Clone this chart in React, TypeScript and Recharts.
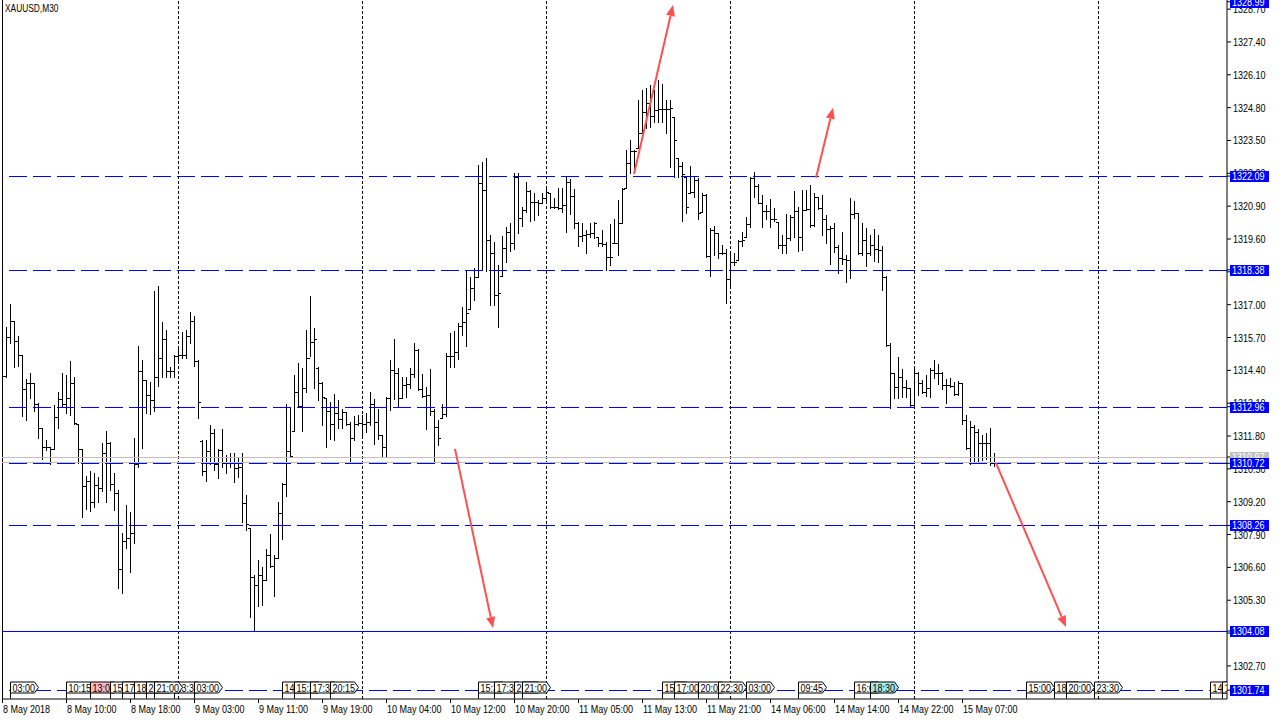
import React from "react";
import { ComposedChart, Bar, XAxis, YAxis, ReferenceLine, ReferenceDot } from "recharts";

const FONT = "'Liberation Sans', Arial, sans-serif";
const BLUE = "#0000ff";
const RED = "#ff5050";
const GREY = "#c0c0c0";
const SQUEEZE = "scale(0.82,1)";

// XAUUSD M30, one entry per bar (bar 0 = 8 May 2018 02:00)
const opens = [
  1314.30, 1314.17, 1315.71, 1316.35, 1315.56, 1315.00, 1313.65, 1313.90, 1313.89, 1313.06,
  1312.11, 1311.36, 1311.36, 1311.28, 1312.54, 1313.26, 1313.06, 1313.30, 1313.89, 1312.27,
  1311.28, 1309.81, 1310.01, 1309.19, 1309.85, 1309.73, 1311.12, 1311.52, 1309.89, 1309.54,
  1306.53, 1307.64, 1307.76, 1307.96, 1310.68, 1314.37, 1314.01, 1313.42, 1313.22, 1314.13,
  1314.88, 1315.63, 1314.37, 1314.37, 1314.96, 1315.00, 1315.00, 1315.75, 1316.35, 1314.76,
  1311.60, 1310.41, 1311.20, 1311.91, 1310.68, 1311.24, 1310.72, 1310.76, 1310.96, 1310.53,
  1310.56, 1309.15, 1308.16, 1306.22, 1305.90, 1306.30, 1306.10, 1307.09, 1306.65, 1306.97,
  1308.75, 1309.89, 1311.20, 1312.00, 1313.54, 1312.98, 1313.70, 1314.88, 1315.52, 1314.50,
  1313.89, 1313.30, 1312.78, 1312.27, 1312.70, 1312.47, 1312.74, 1312.27, 1311.71, 1312.27,
  1312.31, 1312.27, 1312.35, 1313.06, 1312.35, 1311.83, 1311.36, 1313.30, 1314.41, 1314.29,
  1313.30, 1313.81, 1313.85, 1314.25, 1315.20, 1313.66, 1313.38, 1313.42, 1312.78, 1312.15,
  1312.51, 1312.66, 1314.96, 1314.96, 1315.12, 1316.15, 1316.31, 1316.83, 1317.66, 1318.09,
  1321.81, 1321.54, 1319.56, 1319.04, 1317.38, 1318.13, 1319.24, 1319.88, 1319.44, 1322.05,
  1320.43, 1320.75, 1321.50, 1321.06, 1321.06, 1321.02, 1321.22, 1321.42, 1320.86, 1320.86,
  1320.83, 1320.94, 1321.85, 1321.30, 1320.23, 1319.72, 1319.76, 1319.80, 1319.84, 1319.68,
  1319.44, 1319.40, 1318.89, 1319.44, 1319.46, 1320.23, 1321.62, 1322.61, 1323.08, 1323.20,
  1323.79, 1324.63, 1324.98, 1324.47, 1324.71, 1324.74, 1324.74, 1324.74, 1324.43, 1322.81,
  1322.49, 1322.05, 1321.42, 1321.46, 1321.93, 1320.67, 1321.34, 1318.92, 1319.95, 1319.84,
  1319.04, 1319.04, 1318.01, 1318.69, 1318.77, 1319.52, 1319.68, 1320.19, 1322.01, 1321.70,
  1321.04, 1320.71, 1320.71, 1320.39, 1320.27, 1319.36, 1319.36, 1319.64, 1320.47, 1320.71,
  1319.68, 1320.75, 1320.77, 1320.15, 1321.26, 1320.83, 1320.39, 1319.99, 1320.03, 1319.28,
  1318.84, 1318.80, 1318.77, 1320.59, 1320.63, 1319.04, 1319.56, 1319.04, 1319.36, 1319.20,
  1319.16, 1318.09, 1315.40, 1314.29, 1313.74, 1314.13, 1313.74, 1313.70, 1313.02, 1314.29,
  1313.89, 1313.54, 1313.70, 1314.41, 1314.29, 1314.29, 1313.81, 1313.81, 1313.77, 1313.46,
  1313.89, 1312.43, 1311.32, 1312.15, 1311.95, 1311.52, 1311.52, 1311.52, 1310.72,
];

const highs = [
  1314.41, 1316.11, 1317.02, 1316.35, 1315.75, 1315.00, 1314.05, 1314.29, 1313.89, 1313.10,
  1312.11, 1311.64, 1311.36, 1313.02, 1313.54, 1314.29, 1314.21, 1314.76, 1314.13, 1312.27,
  1311.28, 1310.21, 1310.41, 1310.33, 1310.17, 1311.52, 1311.99, 1311.56, 1310.33, 1309.66,
  1307.96, 1309.07, 1308.79, 1311.71, 1315.36, 1314.80, 1314.01, 1313.93, 1317.54, 1317.73,
  1316.31, 1315.99, 1314.52, 1315.00, 1315.28, 1315.91, 1315.99, 1316.71, 1316.55, 1314.80,
  1311.64, 1311.64, 1312.23, 1312.07, 1311.28, 1312.07, 1311.05, 1311.12, 1311.12, 1310.96,
  1311.12, 1309.46, 1308.16, 1306.30, 1306.89, 1306.61, 1307.33, 1307.92, 1307.09, 1309.19,
  1309.94, 1313.06, 1312.94, 1314.21, 1314.68, 1314.48, 1315.99, 1317.34, 1316.07, 1314.52,
  1313.93, 1313.30, 1313.14, 1313.46, 1313.22, 1312.87, 1312.74, 1312.35, 1312.59, 1312.63,
  1312.63, 1312.70, 1313.54, 1313.26, 1312.87, 1311.83, 1313.34, 1314.80, 1315.64, 1314.48,
  1314.13, 1314.13, 1314.48, 1315.48, 1315.24, 1314.25, 1313.74, 1314.45, 1312.87, 1312.43,
  1313.06, 1315.08, 1315.87, 1315.95, 1316.27, 1316.91, 1318.37, 1318.09, 1318.45, 1322.53,
  1322.65, 1322.81, 1319.76, 1319.48, 1318.57, 1319.72, 1320.07, 1320.23, 1322.21, 1322.21,
  1320.86, 1321.85, 1321.54, 1321.42, 1321.14, 1321.42, 1321.62, 1321.42, 1321.22, 1321.62,
  1321.62, 1322.05, 1321.97, 1321.58, 1320.27, 1320.23, 1319.95, 1320.23, 1320.27, 1319.68,
  1319.95, 1319.48, 1320.19, 1320.39, 1321.14, 1321.62, 1323.12, 1323.52, 1323.12, 1325.10,
  1325.50, 1325.58, 1325.69, 1325.50, 1325.89, 1325.73, 1325.10, 1325.10, 1324.43, 1322.81,
  1322.65, 1322.05, 1322.49, 1322.05, 1322.01, 1321.42, 1321.38, 1320.03, 1320.11, 1319.84,
  1319.36, 1319.20, 1319.08, 1319.04, 1319.56, 1319.88, 1320.47, 1322.05, 1322.25, 1321.77,
  1321.34, 1320.94, 1321.18, 1320.83, 1320.27, 1319.76, 1320.59, 1320.55, 1321.50, 1320.86,
  1321.54, 1321.54, 1321.73, 1321.42, 1321.26, 1321.34, 1320.55, 1320.11, 1320.23, 1319.36,
  1319.88, 1318.96, 1321.22, 1321.10, 1320.63, 1320.23, 1320.03, 1319.76, 1319.99, 1319.76,
  1319.32, 1318.13, 1315.48, 1314.29, 1314.92, 1314.45, 1314.01, 1313.70, 1314.48, 1314.33,
  1314.01, 1314.21, 1314.48, 1314.80, 1314.64, 1314.33, 1314.05, 1314.09, 1313.93, 1313.97,
  1313.89, 1312.63, 1312.39, 1312.23, 1312.07, 1311.83, 1311.91, 1312.11, 1311.12,
];

const lows = [
  1313.81, 1314.13, 1315.48, 1314.52, 1314.56, 1312.58, 1312.43, 1313.30, 1312.78, 1311.71,
  1310.88, 1311.24, 1310.68, 1311.28, 1312.11, 1312.94, 1312.70, 1312.62, 1312.27, 1310.72,
  1308.59, 1308.91, 1308.83, 1308.99, 1309.19, 1309.62, 1309.19, 1309.66, 1308.87, 1305.78,
  1305.58, 1307.37, 1306.42, 1307.56, 1310.56, 1311.32, 1312.70, 1312.66, 1312.78, 1313.77,
  1314.13, 1314.13, 1314.13, 1314.13, 1314.80, 1314.88, 1314.88, 1315.48, 1314.56, 1312.50,
  1310.25, 1310.01, 1310.68, 1310.45, 1310.13, 1310.56, 1310.33, 1310.56, 1309.98, 1310.17,
  1308.40, 1308.08, 1304.64, 1304.08, 1305.07, 1305.11, 1306.10, 1306.61, 1305.47, 1306.97,
  1307.72, 1309.42, 1310.96, 1311.99, 1312.94, 1311.99, 1313.54, 1314.96, 1313.70, 1313.22,
  1312.23, 1311.36, 1311.68, 1311.64, 1312.11, 1312.11, 1312.23, 1310.76, 1311.64, 1312.23,
  1311.76, 1311.95, 1312.23, 1311.48, 1311.68, 1310.96, 1310.96, 1312.82, 1313.26, 1312.98,
  1313.30, 1313.34, 1313.70, 1314.13, 1313.62, 1313.34, 1312.07, 1312.63, 1310.72, 1311.44,
  1312.51, 1312.59, 1314.53, 1314.53, 1314.84, 1315.80, 1315.36, 1316.83, 1317.18, 1318.09,
  1318.37, 1318.33, 1316.99, 1316.99, 1316.11, 1318.13, 1318.69, 1319.12, 1319.20, 1319.84,
  1320.11, 1320.67, 1320.31, 1320.35, 1320.55, 1321.02, 1321.06, 1320.83, 1320.83, 1320.79,
  1320.67, 1319.88, 1320.59, 1320.03, 1319.32, 1319.52, 1319.04, 1319.68, 1319.64, 1319.32,
  1319.32, 1318.37, 1318.57, 1319.44, 1318.96, 1320.23, 1321.62, 1322.21, 1322.21, 1323.20,
  1323.79, 1323.99, 1324.03, 1324.23, 1324.23, 1324.23, 1323.79, 1322.45, 1322.05, 1322.05,
  1320.31, 1320.63, 1321.42, 1321.26, 1320.39, 1320.67, 1318.88, 1318.13, 1318.96, 1318.84,
  1319.00, 1317.06, 1317.73, 1318.57, 1318.77, 1319.32, 1319.68, 1320.07, 1321.26, 1321.02,
  1320.07, 1320.39, 1320.07, 1320.31, 1319.24, 1319.04, 1319.04, 1319.56, 1319.68, 1319.12,
  1319.16, 1320.75, 1320.07, 1320.11, 1320.79, 1319.76, 1319.44, 1318.61, 1319.08, 1318.25,
  1318.61, 1317.89, 1318.05, 1320.43, 1319.00, 1318.96, 1318.53, 1318.96, 1318.73, 1318.69,
  1317.58, 1315.36, 1312.90, 1313.30, 1313.30, 1313.34, 1313.34, 1312.94, 1312.94, 1313.42,
  1313.50, 1313.38, 1313.34, 1314.09, 1313.85, 1313.66, 1313.10, 1313.74, 1313.42, 1313.42,
  1312.27, 1311.28, 1310.68, 1310.72, 1310.72, 1310.84, 1310.88, 1310.64, 1310.60,
];

const closes = [
  1314.17, 1315.71, 1316.35, 1315.56, 1315.00, 1313.65, 1313.90, 1313.89, 1313.06, 1312.11,
  1311.36, 1311.36, 1311.28, 1312.54, 1313.26, 1313.06, 1313.30, 1313.89, 1312.30, 1311.28,
  1309.81, 1310.01, 1309.19, 1309.85, 1309.73, 1311.12, 1311.52, 1309.89, 1309.54, 1306.53,
  1307.64, 1307.76, 1307.96, 1310.68, 1314.37, 1314.01, 1313.42, 1313.22, 1314.13, 1314.88,
  1315.63, 1314.37, 1314.37, 1314.96, 1315.00, 1315.00, 1315.75, 1316.35, 1314.76, 1313.14,
  1310.41, 1311.20, 1311.91, 1310.68, 1311.24, 1310.72, 1310.76, 1310.96, 1310.53, 1310.56,
  1309.15, 1308.30, 1306.22, 1305.90, 1306.30, 1306.10, 1307.09, 1306.65, 1306.97, 1308.75,
  1309.89, 1311.20, 1311.00, 1313.54, 1312.98, 1313.70, 1314.88, 1315.52, 1315.63, 1313.89,
  1313.34, 1312.78, 1312.27, 1312.70, 1312.47, 1312.74, 1312.27, 1311.71, 1312.27, 1312.31,
  1312.27, 1312.35, 1313.06, 1312.35, 1311.83, 1311.36, 1313.30, 1314.41, 1314.29, 1313.30,
  1313.81, 1313.85, 1314.25, 1315.20, 1313.66, 1313.38, 1313.42, 1312.78, 1312.15, 1311.71,
  1312.66, 1314.96, 1314.96, 1315.12, 1316.15, 1316.31, 1316.67, 1317.66, 1318.09, 1321.81,
  1321.54, 1319.56, 1319.04, 1317.38, 1317.46, 1319.24, 1319.88, 1319.44, 1322.05, 1320.43,
  1320.75, 1321.50, 1321.06, 1321.06, 1321.02, 1321.22, 1321.46, 1320.86, 1320.86, 1320.83,
  1320.94, 1321.85, 1321.30, 1320.23, 1319.72, 1319.76, 1319.80, 1319.84, 1320.23, 1319.44,
  1319.40, 1318.89, 1318.89, 1319.46, 1320.23, 1321.58, 1322.61, 1323.08, 1323.08, 1323.79,
  1324.63, 1324.98, 1324.47, 1324.71, 1324.74, 1324.74, 1324.74, 1324.78, 1323.52, 1322.49,
  1322.17, 1320.86, 1321.46, 1321.93, 1320.63, 1321.34, 1318.92, 1319.95, 1319.84, 1319.04,
  1319.04, 1318.01, 1318.69, 1318.69, 1319.52, 1319.56, 1320.19, 1322.01, 1321.70, 1321.04,
  1320.71, 1320.71, 1320.39, 1320.39, 1319.36, 1319.36, 1319.64, 1320.47, 1320.71, 1319.68,
  1320.75, 1320.77, 1320.15, 1321.26, 1320.83, 1320.39, 1319.99, 1320.03, 1319.28, 1318.84,
  1318.80, 1318.77, 1320.59, 1320.63, 1319.04, 1319.56, 1319.04, 1319.36, 1319.20, 1319.16,
  1318.09, 1315.40, 1314.29, 1313.74, 1314.13, 1313.74, 1313.70, 1313.02, 1314.29, 1313.89,
  1313.54, 1313.70, 1314.41, 1314.29, 1314.29, 1313.81, 1313.81, 1313.77, 1313.46, 1313.89,
  1312.43, 1311.32, 1312.15, 1311.95, 1311.52, 1311.52, 1311.52, 1310.72, 1310.72,
];

const timeTickBars = [0, 16, 32, 48, 64, 80, 96, 112, 128, 144, 160, 176, 192, 208, 224, 240];
const timeTickLabels = [
  "8 May 2018", "8 May 10:00", "8 May 18:00", "9 May 03:00", "9 May 11:00", "9 May 19:00",
  "10 May 04:00", "10 May 12:00", "10 May 20:00", "11 May 05:00", "11 May 13:00", "11 May 21:00",
  "14 May 06:00", "14 May 14:00", "14 May 22:00", "15 May 07:00",
];

const priceTicks = [
  1328.7, 1327.4, 1326.1, 1324.8, 1323.5, 1322.2, 1320.9, 1319.6, 1318.3, 1317.0, 1315.7,
  1314.4, 1313.1, 1311.8, 1310.5, 1309.2, 1307.9, 1306.6, 1305.3, 1304.0, 1302.7,
];

const gridBars = [44, 90, 136, 182, 228, 274];

const dashedLevels = [1322.09, 1318.38, 1312.96, 1310.72, 1308.26, 1301.74];
const solidLevels = [1304.08];
const topLevel = 1328.99;
const askPrice = 1310.97;
const bidPrice = 1310.78;
// price tags on the scale, drawn after the plain ticks, in this order
const tagLevels = [askPrice, topLevel, 1322.09, 1318.38, 1312.96, 1310.72, 1308.26, 1304.08, 1301.74];

// red trend arrows, [bar, price] pairs
const arrowFrom = [[113.25, 1311.29], [158, 1322.17], [203.5, 1322.02], [248.5, 1310.73]];
const arrowTo = [[122.75, 1304.2], [167.75, 1328.86], [207.75, 1324.79], [266, 1304.24]];

// calendar event markers (draw order)
const eventBars = [2, 16, 22, 27, 30, 33, 36, 43, 38, 48, 70, 73, 77, 82, 119, 123, 128, 130, 165, 168, 174, 179, 186, 199, 213, 217, 256, 263, 266, 273, 302, 305];
const eventTimes = ["03:00", "10:15", "13:00", "15:30", "17:00", "18:30", "20:00", "23:30", "21:00", "03:00", "14:00", "15:30", "17:30", "20:15", "15:30", "17:30", "20:00", "21:00", "15:30", "17:00", "20:00", "22:30", "03:00", "09:45", "16:00", "18:30", "15:00", "18:00", "20:00", "23:30", "14:00", "15:30"];
const eventFill: Record<number, string> = { 2: "#ffb6c1", 25: "#a8e8e8" };

const data = highs.map((h, i) => ({
  i,
  range: [lows[i], h],
  open: opens[i],
  high: h,
  low: lows[i],
  close: closes[i],
}));

function OhlcBar(props: any) {
  const { x, y, width, height, payload } = props;
  if (x == null || y == null) return null;
  const col = Math.round(x + width / 2);
  const top = Math.min(y, y + height);
  const bot = Math.max(y, y + height);
  const span = payload.high - payload.low;
  const toY = (v: number) => (span > 0 ? top + ((payload.high - v) / span) * (bot - top) : top);
  const yo = Math.round(toY(payload.open)) + 0.5;
  const yc = Math.round(toY(payload.close)) + 0.5;
  return (
    <g>
      <line x1={col + 0.5} x2={col + 0.5} y1={Math.round(top)} y2={Math.round(bot) + 1} stroke="#000" />
      <line x1={col - 2} x2={col} y1={yo} y2={yo} stroke="#000" />
      <line x1={col + 1} x2={col + 3} y1={yc} y2={yc} stroke="#000" />
    </g>
  );
}

const hLine = (color: string, dash?: string) => (p: any) => {
  const yy = Math.round(p.y1) + 0.5;
  return <line x1={p.x1} x2={p.x2} y1={yy} y2={yy} stroke={color} strokeDasharray={dash} />;
};

const vLine = (dash?: string) => (p: any) => {
  const xx = Math.round(p.x1) + 0.5;
  return <line x1={xx} x2={xx} y1={p.y1} y2={p.y2} stroke="#000" strokeDasharray={dash} />;
};

function ArrowShape(p: any) {
  const { x1, y1, x2, y2 } = p;
  const dx = x2 - x1;
  const dy = y2 - y1;
  const len = Math.hypot(dx, dy) || 1;
  const ux = dx / len;
  const uy = dy / len;
  const bx = x2 - ux * 11;
  const by = y2 - uy * 11;
  const px = -uy * 4.5;
  const py = ux * 4.5;
  return (
    <g>
      <line x1={x1} y1={y1} x2={bx} y2={by} stroke={RED} strokeWidth={2} />
      <polygon points={`${x2},${y2} ${bx + px},${by + py} ${bx - px},${by - py}`} fill={RED} />
    </g>
  );
}

const eventShape = (label: string, fill: string) => (p: any) => {
  const x = Math.round(p.cx) + 0.5;
  const y = Math.round(p.cy) - 2.5;
  return (
    <g clipPath="url(#plot-clip)">
      <line x1={x} x2={x} y1={y} y2={y + 11} stroke="#000" />
      <path d={`M${x},${y - 5.5}H${x + 24}L${x + 28},${y}L${x + 24},${y + 5.5}H${x}Z`} fill={fill} stroke="#000" />
      <text transform={`translate(${x + 2},${y + 4}) ${SQUEEZE}`} fontSize={11} fontFamily={FONT} fill="#000">
        {label}
      </text>
    </g>
  );
};

function TimeTick(p: any) {
  const x = Math.round(p.x) + 0.5;
  const idx = timeTickBars.indexOf(p.payload.value);
  return (
    <g>
      <line x1={x} x2={x} y1={p.y} y2={p.y + 4} stroke="#000" />
      <text transform={`translate(${x + 0.5},${p.y + 14}) ${SQUEEZE}`} fontSize={11} fontFamily={FONT} fill="#000">
        {timeTickLabels[idx]}
      </text>
    </g>
  );
}

// plain scale labels, and the coloured price tags on top of them
function PriceTick(p: any) {
  const v = Number(p.payload.value);
  if (tagLevels.includes(v)) {
    const yy = Math.round(p.y);
    const tx = p.x - 3;
    return (
      <g>
        <rect x={tx} y={yy - 5} width={39} height={11} fill={v === askPrice ? GREY : BLUE} />
        <text transform={`translate(${tx + 2},${yy + 4}) ${SQUEEZE}`} fontSize={11} fontFamily={FONT} fill="#fff">
          {v.toFixed(2)}
        </text>
      </g>
    );
  }
  return (
    <text transform={`translate(${p.x},${p.y + 4}) ${SQUEEZE}`} fontSize={11} fontFamily={FONT} fill="#000">
      {v.toFixed(2)}
    </text>
  );
}

export default function App() {
  return (
    <div style={{ position: "absolute", left: 0, top: 0, width: 1280, height: 720, background: "#fff", overflow: "hidden" }}>
      <ComposedChart width={1280} height={720} data={data} margin={{ top: 0, right: 0, bottom: 0, left: 2 }}>
        <defs>
          <clipPath id="plot-clip">
            <rect x={2} y={0} width={1225} height={699} />
          </clipPath>
        </defs>
        <XAxis
          dataKey="i"
          type="number"
          domain={[0, 306.25]}
          allowDataOverflow
          ticks={timeTickBars}
          interval={0}
          height={21}
          stroke="#000"
          tickLine={false}
          tickSize={0}
          tickMargin={0}
          tick={<TimeTick />}
        />
        <YAxis
          orientation="right"
          domain={[1301.39, 1329.06]}
          allowDataOverflow
          ticks={[...priceTicks, ...tagLevels]}
          interval={0}
          width={53}
          stroke="#000"
          tickSize={4}
          tickMargin={2}
          tick={<PriceTick />}
        />
        {gridBars.map((b) => (
          <ReferenceLine key={`g${b}`} x={b} shape={vLine("3 2")} />
        ))}
        <ReferenceLine x={0} shape={vLine()} />
        <ReferenceLine y={askPrice} shape={hLine(GREY)} />
        <ReferenceLine y={bidPrice} shape={hLine(GREY)} />
        {dashedLevels.map((v) => (
          <ReferenceLine key={`d${v}`} y={v} shape={hLine(BLUE, "18 6")} />
        ))}
        {solidLevels.map((v) => (
          <ReferenceLine key={`s${v}`} y={v} shape={hLine(BLUE)} />
        ))}
        <Bar dataKey="range" barSize={1} isAnimationActive={false} shape={<OhlcBar />} />
        {arrowFrom.map((f, k) => (
          <ReferenceLine
            key={`a${k}`}
            segment={[
              { x: f[0], y: f[1] },
              { x: arrowTo[k][0], y: arrowTo[k][1] },
            ]}
            shape={ArrowShape}
          />
        ))}
        {eventBars.map((b, k) => (
          <ReferenceDot
            key={`e${k}`}
            x={b}
            y={1301.74}
            shape={eventShape(eventTimes[k], eventFill[k] || "#fff")}
          />
        ))}
      </ComposedChart>
      <div
        style={{
          position: "absolute",
          left: 5,
          top: 2,
          fontSize: 11,
          fontFamily: FONT,
          color: "#000",
          transform: "scaleX(0.76)",
          transformOrigin: "left top",
          whiteSpace: "nowrap",
        }}
      >
        XAUUSD,M30
      </div>
    </div>
  );
}
